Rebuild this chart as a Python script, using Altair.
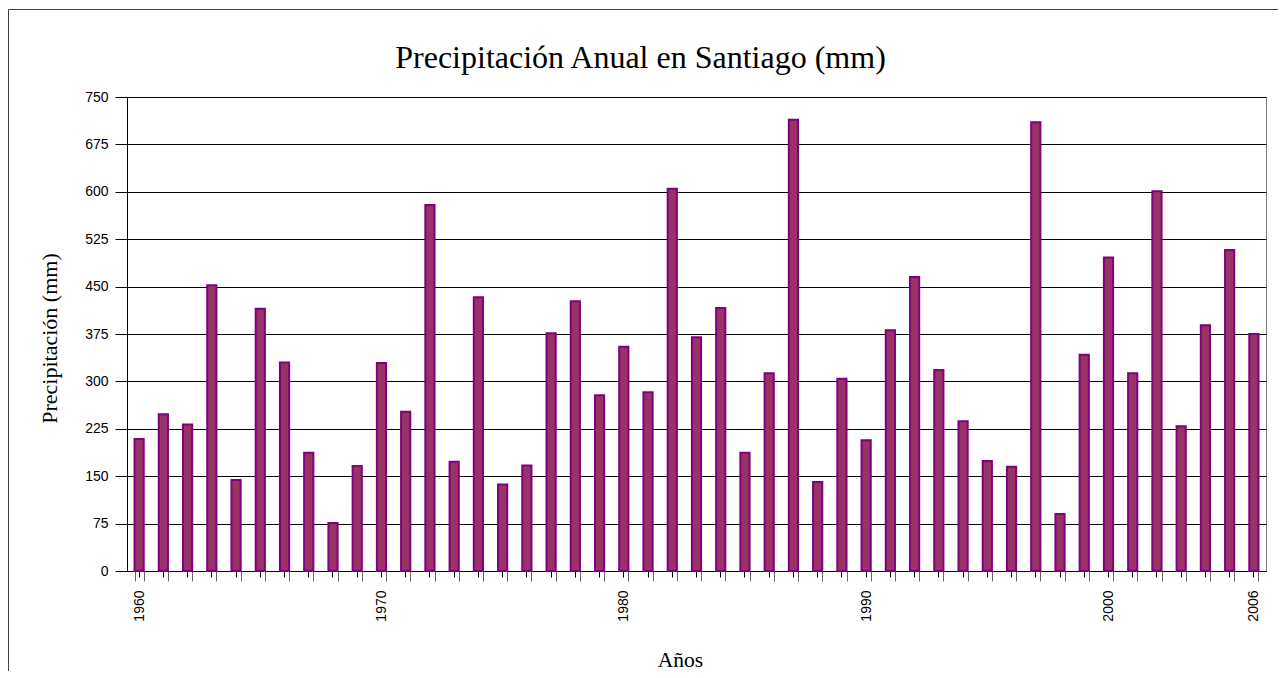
import altair as alt
import pandas as pd

years = list(range(1960, 2007))
precip = [209, 248, 232, 452, 144, 415, 330, 187, 76, 166,
          329, 252, 579, 173, 433, 137, 167, 376, 427, 278,
          355, 283, 605, 370, 416, 187, 313, 714, 141, 304,
          207, 381, 465, 318, 237, 174, 165, 710, 90, 342,
          496, 313, 601, 229, 389, 508, 375]
labeled_years = [1960, 1970, 1980, 1990, 2000, 2006]
y_ticks = list(range(0, 751, 75))

df = pd.DataFrame({"year": years, "mm": precip})

W, H = 1139, 474

xscale = alt.Scale(paddingInner=0.62, paddingOuter=0.31)
yscale = alt.Scale(domain=[0, 750], nice=False)

yaxis = alt.Axis(
    values=y_ticks, grid=True, gridColor="#000000", gridWidth=1,
    domainColor="#000000", tickColor="#000000", tickSize=12, labelPadding=7,
    labelFont="Liberation Sans", labelFontSize=14, labelColor="#000000",
    title="Precipitación (mm)", titleFont="Liberation Serif", titleFontSize=22,
    titleFontWeight="normal", titleColor="#000000", titleAngle=270,
    titleX=-71, titleY=241, titleAlign="center", titleBaseline="alphabetic",
)

label_list = ",".join(str(v) for v in labeled_years)

xaxis_main = alt.Axis(
    orient="bottom", tickBand="extent", tickSize=10, tickColor="#666666",
    domainColor="#000000", grid=False,
    labelExpr=f"indexof([{label_list}], datum.value) >= 0 ? datum.label : ''",
    labelAngle=270, labelAlign="right", labelBaseline="middle", labelPadding=9,
    labelFont="Liberation Sans", labelFontSize=14, labelColor="#000000",
    labelOverlap=False,
    title="Años", titleFont="Liberation Serif", titleFontSize=21.5,
    titleFontWeight="normal", titleColor="#000000",
    titleX=553, titleY=95, titleAlign="center", titleBaseline="alphabetic",
)

xaxis_center = alt.Axis(
    orient="bottom", tickBand="center", tickSize=6, tickColor="#000000",
    domain=False, grid=False, labels=False, title=None,
)

bars = alt.Chart(df).mark_bar(
    fill="#993366", stroke="#800080", strokeWidth=2
).encode(
    x=alt.X("year:O", scale=xscale, axis=xaxis_main),
    y=alt.Y("mm:Q", scale=yscale, axis=yaxis),
)

center_ticks = alt.Chart(df).mark_bar(opacity=0).encode(
    x=alt.X("year:O", scale=xscale, axis=xaxis_center),
    y=alt.Y("mm:Q", scale=yscale, axis=yaxis),
)

frame = alt.Chart(alt.Data(values=[{"f": 1}])).mark_rect(
    fillOpacity=0, stroke="#404040", strokeWidth=1
).encode(
    x=alt.value(-118.5), x2=alt.value(W + 60),
    y=alt.value(-87.5), y2=alt.value(H + 200),
)

chart = alt.layer(frame, bars, center_ticks).resolve_scale(
    x="independent"
).properties(
    width=W, height=H,
    title=alt.TitleParams(
        text="Precipitación Anual en Santiago (mm)",
        font="Liberation Serif", fontSize=32, fontWeight="normal",
        color="#000000", anchor="middle", frame="group", dx=-56, offset=-66,
    ),
    autosize=alt.AutoSizeParams(type="none"),
    padding={"left": 119, "top": 89, "right": 12, "bottom": 100},
    background="#ffffff",
).configure_view(stroke="#808080", strokeWidth=1)

chart.save("out.html", embed_options={"renderer": "svg", "actions": False})
